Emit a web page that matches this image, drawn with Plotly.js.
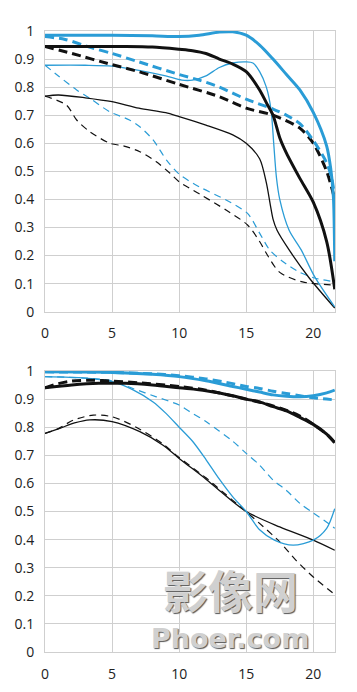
<!DOCTYPE html>
<html>
<head>
<meta charset="utf-8">
<script src="https://cdn.plot.ly/plotly-3.0.1.min.js"></script>
<style>
  html, body { margin: 0; padding: 0; background: #ffffff; }
  #chart { width: 357px; height: 692px; }
</style>
</head>
<body>
<div id="chart"></div>
<script>
// ---------- tick labels ----------
const xTickVals = [0, 5, 10, 15, 20];
const xTickText = ["0", "5", "10", "15", "20"];
const yTickVals = [0, 0.1, 0.2, 0.3, 0.4, 0.5, 0.6, 0.7, 0.8, 0.9, 1];
const yTickText = ["0", "0.1", "0.2", "0.3", "0.4", "0.5", "0.6", "0.7", "0.8", "0.9", "1"];

// ---------- top chart ----------
const topThickBlueX = [0, 2, 5, 8, 10, 11.5, 13, 14, 15, 16, 17, 18, 19, 20, 21, 21.3, 21.5, 21.6];
const topThickBlueY = [0.985, 0.985, 0.985, 0.983, 0.98, 0.985, 0.996, 0.997, 0.985, 0.95, 0.9, 0.845, 0.79, 0.71, 0.59, 0.51, 0.41, 0.18];

const topThickBlueDashX = [0, 1.5, 3.5, 5, 7, 10, 11.5, 13, 15, 17, 18, 19, 20, 21, 21.4, 21.6];
const topThickBlueDashY = [0.98, 0.97, 0.94, 0.92, 0.89, 0.845, 0.825, 0.8, 0.757, 0.722, 0.70, 0.67, 0.61, 0.53, 0.47, 0.40];

const topThickBlackX = [0, 3, 6, 8, 10, 11, 12, 13, 14, 15, 16, 16.5, 17, 17.5, 18, 19, 20, 21, 21.6];
const topThickBlackY = [0.945, 0.945, 0.945, 0.943, 0.935, 0.93, 0.92, 0.9, 0.882, 0.855, 0.79, 0.745, 0.70, 0.62, 0.565, 0.475, 0.39, 0.25, 0.08];

const topThickBlackDashX = [0, 2, 5, 7, 10, 13, 15, 17, 19, 20, 21, 21.6];
const topThickBlackDashY = [0.945, 0.92, 0.88, 0.855, 0.81, 0.766, 0.725, 0.70, 0.654, 0.6, 0.5, 0.40];

const topThinBlueX = [0, 3, 5, 7, 9, 10.2, 11, 12, 13, 14, 15, 15.5, 16, 16.5, 16.85, 17.05, 17.25, 17.5, 18.2, 19.1, 20.1, 21.6];
const topThinBlueY = [0.878, 0.878, 0.875, 0.86, 0.84, 0.825, 0.825, 0.84, 0.87, 0.886, 0.89, 0.886, 0.855, 0.80, 0.72, 0.60, 0.48, 0.40, 0.29, 0.22, 0.125, 0.017];

const topThinBlackX = [0, 1, 3, 5, 7, 9, 10, 12, 14, 15, 16, 16.5, 16.8, 17.0, 17.3, 18.2, 19.7, 21.6];
const topThinBlackY = [0.768, 0.772, 0.762, 0.748, 0.725, 0.709, 0.695, 0.665, 0.63, 0.60, 0.545, 0.46, 0.38, 0.33, 0.29, 0.22, 0.12, 0.013];

const topThinBlueDashX = [0, 1, 2.36, 3.35, 4.84, 6.3, 7.07, 8.06, 9.06, 10, 11.5, 13.5, 15.1, 16, 16.75, 17.7, 19, 20.1, 21.6];
const topThinBlueDashY = [0.878, 0.84, 0.79, 0.76, 0.712, 0.683, 0.659, 0.612, 0.54, 0.49, 0.445, 0.398, 0.35, 0.28, 0.22, 0.18, 0.14, 0.12, 0.106];

const topThinBlackDashX = [0, 1.6, 2.36, 3.35, 4.84, 5.9, 7.07, 8.3, 9.3, 10, 11.5, 13.5, 15.1, 16, 16.6, 17.5, 19.2, 21.6];
const topThinBlackDashY = [0.768, 0.736, 0.683, 0.641, 0.60, 0.59, 0.57, 0.534, 0.494, 0.463, 0.42, 0.362, 0.309, 0.25, 0.20, 0.14, 0.106, 0.095];

// ---------- bottom chart ----------
const botThickBlueX = [0, 5, 8, 10, 12, 14, 15, 16, 17, 18, 19, 20, 21, 21.6];
const botThickBlueY = [0.997, 0.995, 0.988, 0.98, 0.965, 0.945, 0.935, 0.925, 0.915, 0.91, 0.908, 0.912, 0.922, 0.932];

const botThickBlueDashX = [0, 5, 8, 10, 12, 14, 15, 16, 17, 18, 19, 20, 21, 21.6];
const botThickBlueDashY = [0.997, 0.995, 0.99, 0.983, 0.972, 0.955, 0.945, 0.938, 0.928, 0.92, 0.912, 0.905, 0.9, 0.897];

const botThickBlackX = [0, 2, 4, 6, 8, 10, 12, 14, 15, 16, 17, 18, 19, 20, 21, 21.6];
const botThickBlackY = [0.94, 0.95, 0.956, 0.956, 0.95, 0.94, 0.93, 0.912, 0.9, 0.89, 0.873, 0.858, 0.835, 0.81, 0.775, 0.745];

const botThickBlackDashX = [0, 1, 2, 3.5, 5, 7, 10, 12, 13, 15, 17, 19, 21, 21.6];
const botThickBlackDashY = [0.94, 0.955, 0.964, 0.967, 0.964, 0.958, 0.945, 0.932, 0.922, 0.9, 0.876, 0.84, 0.775, 0.745];

const botThinBlueX = [0, 3, 5, 6.6, 8.06, 9, 10, 11, 12, 13, 14, 15, 16, 17.1, 18.5, 20, 21, 21.6];
const botThinBlueY = [0.98, 0.975, 0.962, 0.932, 0.89, 0.85, 0.80, 0.75, 0.685, 0.615, 0.552, 0.50, 0.435, 0.398, 0.38, 0.398, 0.44, 0.51];

const botThinBlueDashX = [0, 3, 5, 6.6, 8.3, 10, 10.8, 12, 14, 15, 16, 17, 18, 19, 20, 21, 21.6];
const botThinBlueDashY = [0.98, 0.975, 0.965, 0.937, 0.908, 0.879, 0.855, 0.82, 0.75, 0.707, 0.665, 0.612, 0.575, 0.529, 0.495, 0.462, 0.44];

const botThinBlackX = [0, 1.1, 2.2, 3.35, 5, 7.07, 8.8, 10, 12, 13, 15, 17.5, 20, 21.6];
const botThinBlackY = [0.778, 0.796, 0.815, 0.826, 0.82, 0.784, 0.736, 0.689, 0.615, 0.575, 0.50, 0.445, 0.398, 0.362];

const botThinBlackDashX = [0, 1, 2.1, 3.6, 5, 6.8, 8.8, 10, 12, 12.8, 15, 16.3, 17.5, 18.7, 20, 21.6];
const botThinBlackDashY = [0.778, 0.795, 0.825, 0.843, 0.837, 0.80, 0.74, 0.692, 0.62, 0.588, 0.499, 0.445, 0.392, 0.327, 0.267, 0.205];

// ---------- watermark text ----------
const watermarkCn = "影像网";
const watermarkEn = "Phoer.com";

// ---------- styling ----------
const BLUE = "#2a9cd6";
const BLACK = "#111111";
const GRID = "#cfcfcf";

function tr(x, y, color, width, dash, xa, ya) {
  return {
    x: x, y: y, type: "scatter", mode: "lines",
    xaxis: xa, yaxis: ya, hoverinfo: "skip", showlegend: false,
    line: { color: color, width: width, dash: dash, shape: "spline", smoothing: 0.8 }
  };
}
const TD = "9px,5px";
const ND = "7px,5px";

const data = [
  tr(topThinBlackDashX, topThinBlackDashY, BLACK, 1.2, ND, "x", "y"),
  tr(topThinBlueDashX, topThinBlueDashY, BLUE, 1.2, ND, "x", "y"),
  tr(topThinBlackX, topThinBlackY, BLACK, 1.3, "solid", "x", "y"),
  tr(topThinBlueX, topThinBlueY, BLUE, 1.3, "solid", "x", "y"),
  tr(topThickBlackDashX, topThickBlackDashY, BLACK, 3, TD, "x", "y"),
  tr(topThickBlueDashX, topThickBlueDashY, BLUE, 3, TD, "x", "y"),
  tr(topThickBlackX, topThickBlackY, BLACK, 3, "solid", "x", "y"),
  tr(topThickBlueX, topThickBlueY, BLUE, 3, "solid", "x", "y"),

  tr(botThinBlackDashX, botThinBlackDashY, BLACK, 1.2, ND, "x2", "y2"),
  tr(botThinBlueDashX, botThinBlueDashY, BLUE, 1.2, ND, "x2", "y2"),
  tr(botThinBlackX, botThinBlackY, BLACK, 1.3, "solid", "x2", "y2"),
  tr(botThinBlueX, botThinBlueY, BLUE, 1.3, "solid", "x2", "y2"),
  tr(botThickBlackDashX, botThickBlackDashY, BLACK, 3, TD, "x2", "y2"),
  tr(botThickBlackX, botThickBlackY, BLACK, 3, "solid", "x2", "y2"),
  tr(botThickBlueDashX, botThickBlueDashY, BLUE, 3, TD, "x2", "y2"),
  tr(botThickBlueX, botThickBlueY, BLUE, 3, "solid", "x2", "y2")
];

const tickFont = { family: "Open Sans, Noto Sans, sans-serif", size: 14, color: "#222" };

function xAx(anchor) {
  return {
    anchor: anchor, domain: [0, 1], range: [0, 21.62],
    tickmode: "array", tickvals: xTickVals, ticktext: xTickText,
    showgrid: true, gridcolor: GRID, gridwidth: 1,
    showline: true, linecolor: GRID, linewidth: 1, mirror: true,
    zeroline: false, ticks: "", tickfont: tickFont, ticklabelstandoff: 9,
    fixedrange: true
  };
}
function yAx(anchor, dom) {
  return {
    anchor: anchor, domain: dom, range: [0, 1],
    tickmode: "array", tickvals: yTickVals, ticktext: yTickText,
    showgrid: true, gridcolor: GRID, gridwidth: 1,
    showline: true, linecolor: GRID, linewidth: 1, mirror: true,
    zeroline: false, ticks: "", tickfont: tickFont, ticklabelstandoff: 7,
    fixedrange: true
  };
}

const WM_SHADOW = "1px 1px 1px #555, -1px -1px 1px #fff";

const layout = {
  width: 357, height: 692,
  margin: { l: 45, r: 22, t: 31, b: 40 },
  paper_bgcolor: "#ffffff", plot_bgcolor: "#ffffff",
  showlegend: false,
  xaxis: xAx("y"),
  yaxis: yAx("x", [0.548, 1]),
  xaxis2: xAx("y2"),
  yaxis2: yAx("x2", [0, 0.4525]),
  annotations: [
    {
      xref: "x2", yref: "y2", x: 13.8, y: 0.108, yanchor: "bottom", showarrow: false,
      borderwidth: 0, borderpad: 0,
      text: "<b>" + watermarkCn + "</b>",
      font: { family: "Noto Sans CJK SC", size: 45, color: "#d0d0d0", shadow: WM_SHADOW }
    },
    {
      xref: "x2", yref: "y2", x: 13.8, y: 0.104, yanchor: "top", showarrow: false,
      borderwidth: 0, borderpad: 0,
      text: "<b>" + watermarkEn + "</b>",
      font: { family: "DejaVu Sans", size: 27, color: "#d0d0d0", shadow: WM_SHADOW }
    }
  ]
};

Plotly.newPlot("chart", data, layout, { staticPlot: true, displayModeBar: false });
</script>
</body>
</html>
